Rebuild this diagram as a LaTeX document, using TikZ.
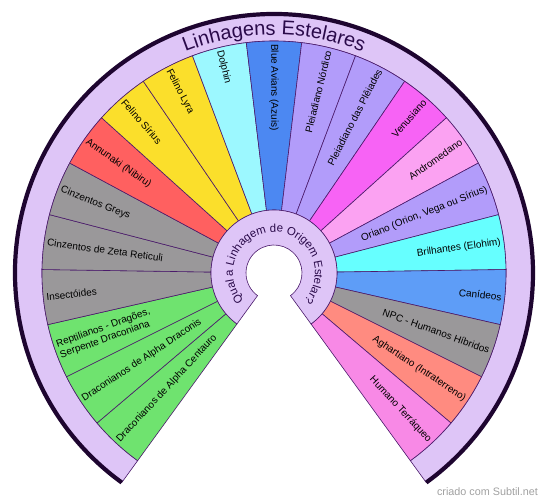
\documentclass[tikz,border=0pt]{standalone}
\usepackage{fontspec}
\setmainfont{Liberation Sans}
\usetikzlibrary{decorations.text}
\definecolor{lav}{HTML}{DEC5F7}
\definecolor{edge}{HTML}{4A1A6A}
\definecolor{darkpur}{HTML}{1E0530}
\definecolor{titlecol}{HTML}{2A0A4A}
\definecolor{cgreen}{HTML}{6FE36F}
\definecolor{cgrey}{HTML}{9A989A}
\definecolor{cred}{HTML}{FF6060}
\definecolor{cyellow}{HTML}{FBDF2B}
\definecolor{clcyan}{HTML}{9CF8FF}
\definecolor{cblue}{HTML}{4C88F2}
\definecolor{cpurple}{HTML}{B29CFA}
\definecolor{cmagenta}{HTML}{F763F5}
\definecolor{cpink}{HTML}{FBA2F2}
\definecolor{ccyan}{HTML}{66FFFF}
\definecolor{cblue2}{HTML}{5E9DF7}
\definecolor{csalmon}{HTML}{FF8B80}
\definecolor{cpink2}{HTML}{F889E6}
\definecolor{footgrey}{HTML}{A0A0A0}
\tikzset{
  secline/.style={draw=edge, line width=0.6pt},
  lbl/.style={font=\fontsize{10}{11.5}\selectfont, inner sep=0pt, text=black},
}
\newcommand\mysector[3]{%
  \pgfmathsetmacro\sa{234-13.7142857*(#1+1)}%
  \pgfmathsetmacro\sb{234-13.7142857*#1}%
  \pgfmathsetmacro\sm{234-13.7142857*(#1+0.5)}%
  \pgfmathsetmacro\sr{\sm-180}%
  \draw[secline, fill=#2] (\sa:63pt) -- (\sa:232pt) arc[start angle=\sa, end angle=\sb, radius=232pt] -- (\sb:63pt) arc[start angle=\sb, end angle=\sa, radius=63pt] -- cycle;
  \ifdim\sm pt<89.9pt
    \node[lbl, rotate=\sm, anchor=east, align=right] (s#1) at (\sm:229pt) {#3};
  \else
    \node[lbl, rotate=\sr, anchor=west, align=left] (s#1) at (\sm:229pt) {#3};
  \fi
}
\begin{document}
\begin{tikzpicture}[x=1pt,y=1pt]
\useasboundingbox (-274pt,-231pt) rectangle (276pt,273pt);
% outer ring
\draw[secline, fill=lav] (234:232pt) -- (234:259pt) arc[start angle=234, end angle=-54, radius=259pt] -- (-54:232pt) arc[start angle=-54, end angle=234, radius=232pt] -- cycle;
\draw[line width=4.2pt, color=darkpur] (234:259pt) arc[start angle=234, end angle=-54, radius=259pt];
% sectors
\mysector{0}{cgreen}{Draconianos de Alpha Centauro}
\mysector{1}{cgreen}{Draconianos de Alpha Draconis}
\mysector{2}{cgreen}{Reptilianos - Dragões,\\Serpente Draconiana}
\mysector{3}{cgrey}{Insectóides}
\mysector{4}{cgrey}{Cinzentos de Zeta Reticuli}
\mysector{5}{cgrey}{Cinzentos Greys}
\mysector{6}{cred}{Annunaki (Nibiru)}
\mysector{7}{cyellow}{Felino Sírius}
\mysector{8}{cyellow}{Felino Lyra}
\mysector{9}{clcyan}{Dolphin}
\mysector{10}{cblue}{Blue Avians (Azuis)}
\mysector{11}{cpurple}{Pleiadiano Nórdico}
\mysector{12}{cpurple}{Pleiadiano das Plêiades}
\mysector{13}{cmagenta}{Venusiano}
\mysector{14}{cpink}{Andromedano}
\mysector{15}{cpurple}{Oriano (Orion, Vega ou Sírius)}
\mysector{16}{ccyan}{Brilhantes (Elohim)}
\mysector{17}{cblue2}{Canídeos}
\mysector{18}{cgrey}{NPC - Humanos Híbridos}
\mysector{19}{csalmon}{Aghartiano (Intraterreno)}
\mysector{20}{cpink2}{Humano Terráqueo}
% inner ring
\draw[secline, fill=lav] (234:28pt) -- (234:63pt) arc[start angle=234, end angle=-54, radius=63pt] -- (-54:28pt) arc[start angle=-54, end angle=234, radius=28pt] -- cycle;
% title along arc
\path[decorate, decoration={text along path, text align=center, text color=titlecol,
  text={|\fontsize{20}{24}\selectfont|Linhagens Estelares}}]
  (234:238pt) arc[start angle=234, end angle=-54, radius=238pt];
\path[decorate, decoration={text along path, text align=center, text color=titlecol,
  text={|\fontsize{11.5}{13}\selectfont|Qual a Linhagem de Origem Estelar?}}]
  (234:41pt) arc[start angle=234, end angle=-54, radius=41pt];
% footer
\node[font=\fontsize{10.8}{12}\selectfont, text=footgrey, inner sep=0pt] (foot) at (213.5pt,-219pt) {criado com Subtil.net};
\end{tikzpicture}
\end{document}
